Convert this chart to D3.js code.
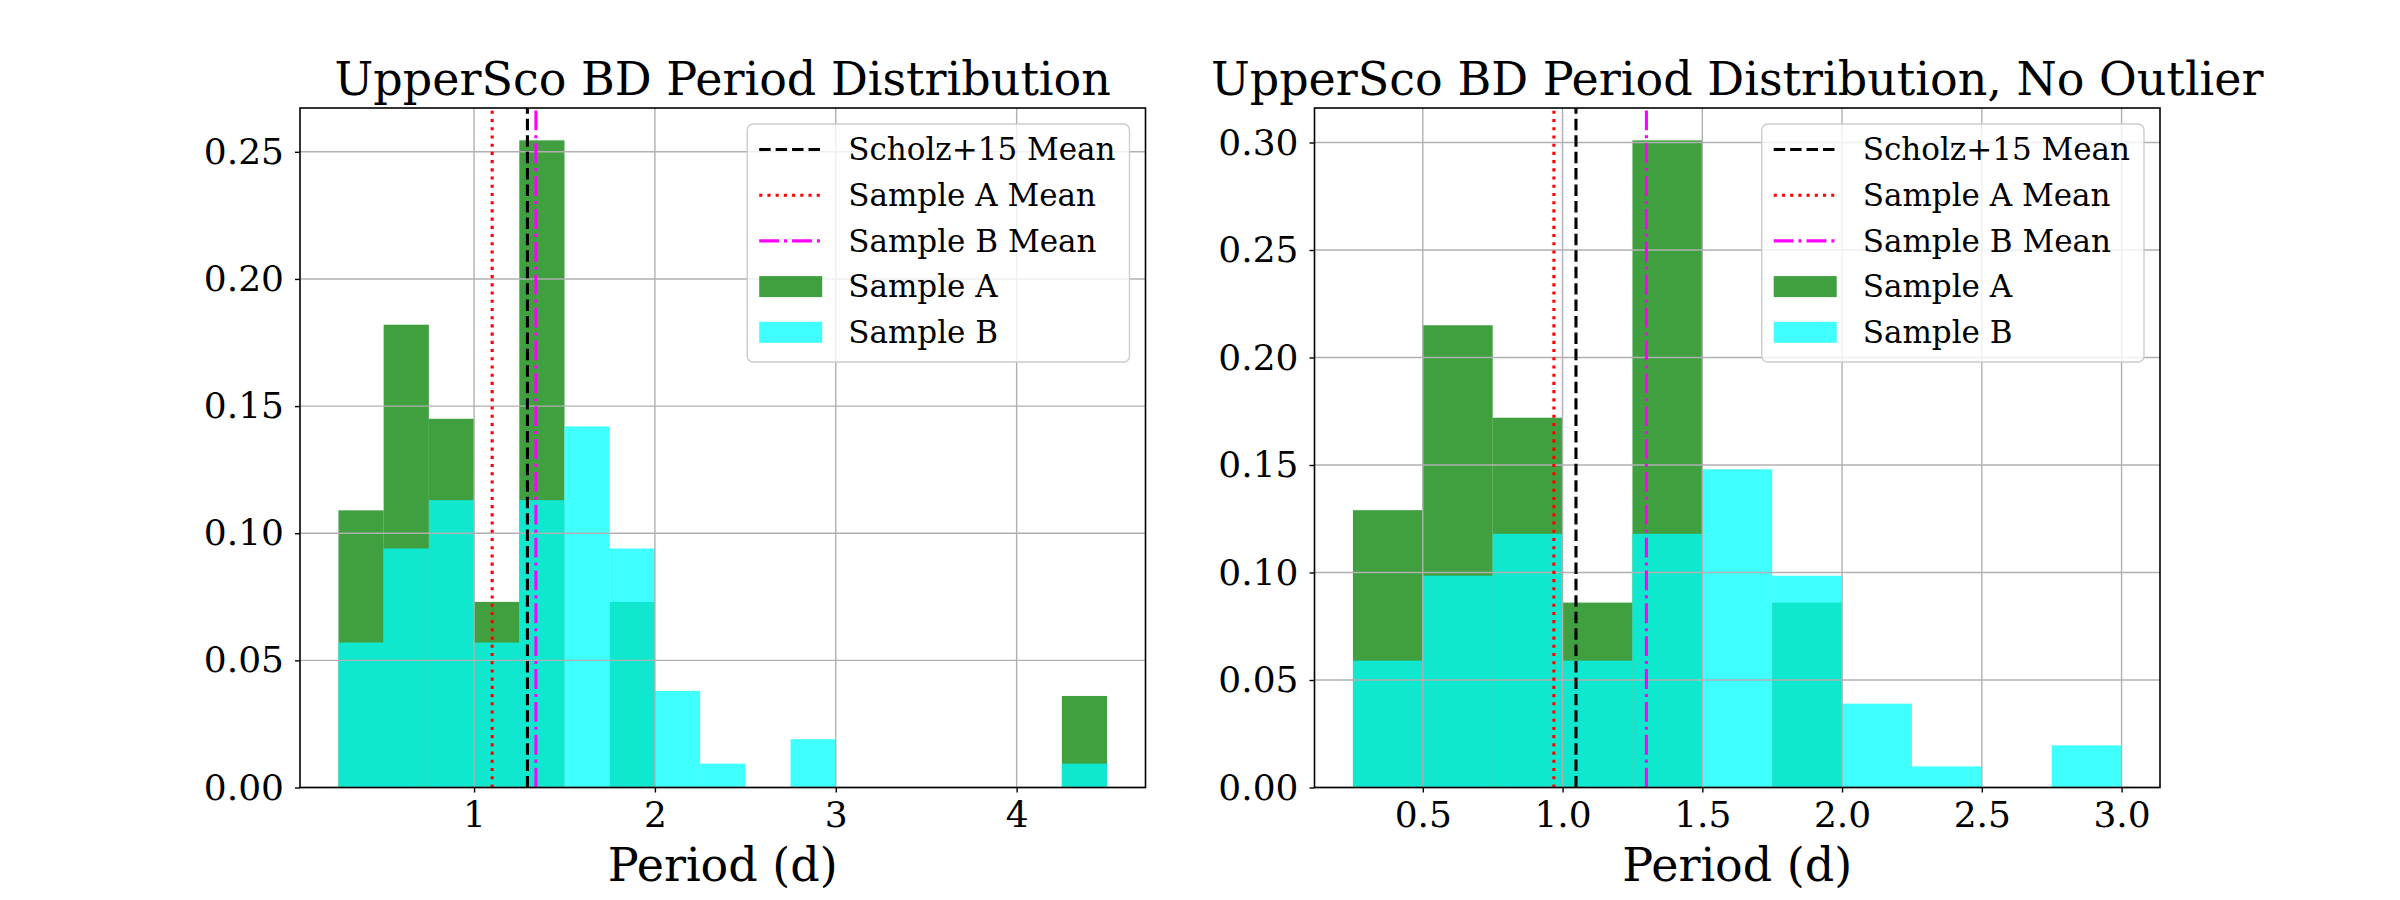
<!DOCTYPE html>
<html>
<head>
<meta charset="utf-8">
<script src="https://cdn.jsdelivr.net/npm/d3@7"></script>
<style>
  body { margin: 0; background: white; }
  svg { display: block; font-family: "DejaVu Serif", serif; }
</style>
</head>
<body>
<div id="chart"></div>
<script>
// bin edges (period, days)
var edgesAll = [0.25, 0.5, 0.75, 1.0, 1.25, 1.5, 1.75, 2.0, 2.25, 2.5, 2.75, 3.0, 3.25, 3.5, 3.75, 4.0, 4.25, 4.5];
var edgesNoOutlier = [0.25, 0.5, 0.75, 1.0, 1.25, 1.5, 1.75, 2.0, 2.25, 2.5, 2.75, 3.0];

// normalized histogram heights, one per bin
var sampleA_all = [0.109, 0.182, 0.145, 0.073, 0.2545, 0, 0.073, 0, 0, 0, 0, 0, 0, 0, 0, 0, 0.036];
var sampleB_all = [0.057, 0.094, 0.113, 0.057, 0.113, 0.142, 0.094, 0.038, 0.0094, 0, 0.019, 0, 0, 0, 0, 0, 0.0094];
var sampleA_noOut = [0.129, 0.215, 0.172, 0.086, 0.301, 0, 0.086, 0, 0, 0, 0];
var sampleB_noOut = [0.059, 0.0985, 0.118, 0.059, 0.118, 0.148, 0.0985, 0.039, 0.0098, 0, 0.0196];

// mean lines: [Scholz+15, Sample A, Sample B]
var means_all = [1.295, 1.10, 1.342];
var means_noOut = [1.048, 0.969, 1.30];

// ticks
var xTicks_all = [1, 2, 3, 4];
var xTicks_noOut = [0.5, 1.0, 1.5, 2.0, 2.5, 3.0];
var yTicks_all = [0, 0.05, 0.10, 0.15, 0.20, 0.25];
var yTicks_noOut = [0, 0.05, 0.10, 0.15, 0.20, 0.25, 0.30];

var legendLabels = ["Scholz+15 Mean", "Sample A Mean", "Sample B Mean", "Sample A", "Sample B"];

var W = 2400, H = 900;
var svg = d3.select("#chart").append("svg")
  .attr("width", W)
  .attr("height", H);

var lw = 3.1;
var lineStyles = [
  {color: "black", dash: [3.7 * lw, 1.6 * lw]},
  {color: "red", dash: [1 * lw, 1.65 * lw]},
  {color: "magenta", dash: [6.4 * lw, 1.6 * lw, 1 * lw, 1.6 * lw]}
];

function drawPanel(left, title, edges, valsA, valsB, means, xTicks, yTicks, xFmt) {
  var top = 108, bottom = 787.5, width = 845.5;
  var right = left + width;

  // matplotlib style 5% margin on x, y from 0 to 1.05*max
  var xmin = d3.min(edges), xmax = d3.max(edges);
  var pad = (xmax - xmin) * 0.05;
  var x = d3.scaleLinear().domain([xmin - pad, xmax + pad]).range([left, right]);
  var ymax = d3.max(valsA.concat(valsB)) * 1.05;
  var y = d3.scaleLinear().domain([0, ymax]).range([bottom, top]);

  var g = svg.append("g");

  // bars, A first then B on top
  var bins = d3.range(edges.length - 1);
  g.selectAll(".barA")
    .data(bins)
    .enter()
    .append("rect")
    .attr("x", function(i) { return x(edges[i]); })
    .attr("width", function(i) { return x(edges[i + 1]) - x(edges[i]); })
    .attr("y", function(i) { return y(valsA[i]); })
    .attr("height", function(i) { return y(0) - y(valsA[i]); })
    .attr("fill", "green")
    .attr("fill-opacity", 0.75);

  g.selectAll(".barB")
    .data(bins)
    .enter()
    .append("rect")
    .attr("x", function(i) { return x(edges[i]); })
    .attr("width", function(i) { return x(edges[i + 1]) - x(edges[i]); })
    .attr("y", function(i) { return y(valsB[i]); })
    .attr("height", function(i) { return y(0) - y(valsB[i]); })
    .attr("fill", "cyan")
    .attr("fill-opacity", 0.75);

  // grid sits above the bars
  g.selectAll(".hgrid")
    .data(yTicks)
    .enter()
    .append("line")
    .attr("x1", left).attr("x2", right)
    .attr("y1", function(d) { return y(d); })
    .attr("y2", function(d) { return y(d); })
    .attr("stroke", "#b0b0b0")
    .attr("stroke-width", 1.4);

  g.selectAll(".vgrid")
    .data(xTicks)
    .enter()
    .append("line")
    .attr("y1", top).attr("y2", bottom)
    .attr("x1", function(d) { return x(d); })
    .attr("x2", function(d) { return x(d); })
    .attr("stroke", "#b0b0b0")
    .attr("stroke-width", 1.4);

  // mean lines, drawn from bottom up so dashes start at the axis
  g.selectAll(".mean")
    .data(means)
    .enter()
    .append("line")
    .attr("x1", function(d) { return x(d); })
    .attr("x2", function(d) { return x(d); })
    .attr("y1", bottom).attr("y2", top)
    .attr("stroke", function(d, i) { return lineStyles[i].color; })
    .attr("stroke-width", lw)
    .attr("stroke-dasharray", function(d, i) { return lineStyles[i].dash.join(","); });

  // axes
  var xAxisG = g.append("g")
    .attr("transform", "translate(0," + bottom + ")")
    .call(d3.axisBottom(x).tickValues(xTicks).tickFormat(xFmt).tickSizeOuter(0).tickSize(5).tickPadding(9));
  var yAxisG = g.append("g")
    .attr("transform", "translate(" + left + ",0)")
    .call(d3.axisLeft(y).tickValues(yTicks).tickFormat(d3.format(".2f")).tickSizeOuter(0).tickSize(5).tickPadding(11));

  xAxisG.select(".domain").remove();
  yAxisG.select(".domain").remove();
  g.selectAll(".tick line").attr("stroke", "black").attr("stroke-width", 1.4);
  xAxisG.selectAll("text")
    .attr("font-family", "DejaVu Serif")
    .attr("font-size", 36)
    .attr("fill", "black");
  yAxisG.selectAll("text")
    .attr("font-family", "DejaVu Serif")
    .attr("font-size", 36)
    .attr("fill", "black");

  // frame
  g.append("rect")
    .attr("x", left).attr("y", top)
    .attr("width", width).attr("height", bottom - top)
    .attr("fill", "none")
    .attr("stroke", "black")
    .attr("stroke-width", 1.6);

  // title + x label
  g.append("text")
    .attr("x", (left + right) / 2)
    .attr("y", 95)
    .attr("text-anchor", "middle")
    .attr("font-size", 46)
    .text(title);

  g.append("text")
    .attr("x", (left + right) / 2)
    .attr("y", 881)
    .attr("text-anchor", "middle")
    .attr("font-size", 46)
    .text("Period (d)");

  // legend, upper right
  var fs = 31;
  var leg = g.append("g");
  var rowH = 45.7;
  var firstRow = 149.5;
  var handleLen = 63;

  var frame = leg.append("rect")
    .attr("rx", 6).attr("ry", 6)
    .attr("fill", "white")
    .attr("fill-opacity", 0.8)
    .attr("stroke", "#cccccc")
    .attr("stroke-width", 1.4);

  var maxW = 0;
  var texts = [];
  legendLabels.forEach(function(lbl, i) {
    var t = leg.append("text")
      .attr("y", firstRow + i * rowH)
      .attr("dy", "0.35em")
      .attr("font-size", fs)
      .text(lbl);
    maxW = Math.max(maxW, t.node().getComputedTextLength());
    texts.push(t);
  });

  var boxRight = right - 16;
  var boxLeft = boxRight - (12 + handleLen + 26 + maxW + 14);
  var hx = boxLeft + 12;
  frame.attr("x", boxLeft).attr("y", 124)
    .attr("width", boxRight - boxLeft)
    .attr("height", 238);
  texts.forEach(function(t) { t.attr("x", hx + handleLen + 26); });

  lineStyles.forEach(function(s, i) {
    leg.append("line")
      .attr("x1", hx).attr("x2", hx + handleLen)
      .attr("y1", firstRow + i * rowH).attr("y2", firstRow + i * rowH)
      .attr("stroke", s.color)
      .attr("stroke-width", lw)
      .attr("stroke-dasharray", s.dash.join(","));
  });
  ["green", "cyan"].forEach(function(c, j) {
    var cy = firstRow + (3 + j) * rowH;
    leg.append("rect")
      .attr("x", hx).attr("y", cy - 10.5)
      .attr("width", handleLen).attr("height", 21)
      .attr("fill", c)
      .attr("fill-opacity", 0.75);
  });
}

drawPanel(300, "UpperSco BD Period Distribution", edgesAll, sampleA_all, sampleB_all,
  means_all, xTicks_all, yTicks_all, d3.format("d"));
drawPanel(1314.5, "UpperSco BD Period Distribution, No Outlier", edgesNoOutlier, sampleA_noOut, sampleB_noOut,
  means_noOut, xTicks_noOut, yTicks_noOut, d3.format(".1f"));
</script>
</body>
</html>
